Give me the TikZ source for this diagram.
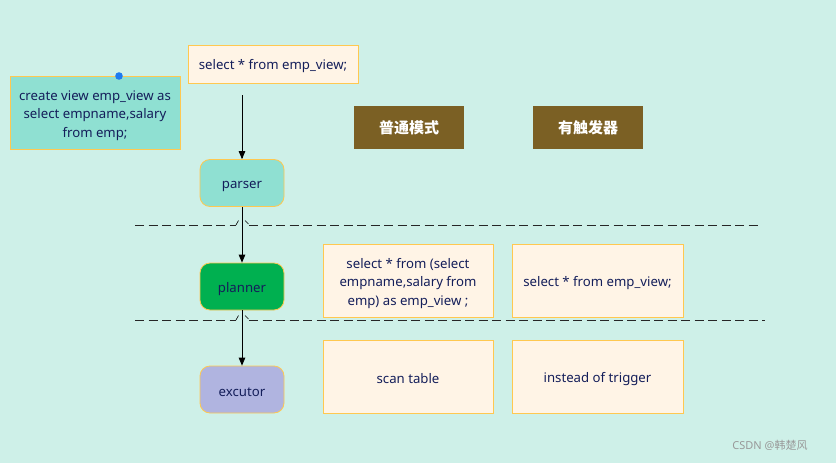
\documentclass[tikz,border=0pt]{standalone}
\usepackage{fontspec}
\setmainfont{Noto Sans}
\newfontfamily\cjk{Noto Sans CJK SC}
\usetikzlibrary{arrows}

\definecolor{bgmint}{RGB}{206,240,232}
\definecolor{tealfill}{RGB}{143,224,210}
\definecolor{cream}{RGB}{255,244,230}
\definecolor{boxedge}{RGB}{255,200,80}
\definecolor{plangreen}{RGB}{0,176,80}
\definecolor{execpurple}{RGB}{176,180,224}
\definecolor{modebrown}{RGB}{123,96,36}
\definecolor{sqltext}{RGB}{20,30,90}
\definecolor{dotblue}{RGB}{30,123,240}

\newcommand{\topgap}{\rule{0pt}{16pt}}

\begin{document}
\begin{tikzpicture}[x=1pt,y=-1pt,>=triangle 45,
	every node/.style={font=\fontsize{13.2}{18.5}\selectfont,text=sqltext,inner sep=0pt,align=center},
	sqlbox/.style={draw=boxedge,fill=cream,line width=0.8pt,execute at begin node={\rule{0pt}{15pt}}},
	stagebox/.style={draw=boxedge,line width=0.8pt,rounded corners=10pt,minimum width=84pt,minimum height=47pt,execute at begin node={\rule{0pt}{15pt}}},
	modebox/.style={fill=modebrown,text=white,minimum width=110pt,minimum height=43pt,font=\fontsize{15}{17}\selectfont\cjk\bfseries},
	sepline/.style={dash pattern=on 9pt off 4.5pt,line width=0.8pt,color=black!85}]
	% The background
	\fill[bgmint] (0,0) rectangle (836,463);
	\useasboundingbox (0,0) rectangle (836,463);

	% The view definition and the query
	\node[sqlbox,fill=tealfill,minimum width=170pt,minimum height=73pt] (viewdef) at (95,112.5)
		{\topgap create view emp\_view as\\select empname,salary\\from emp;};
	\coordinate (viewdot) at (119,76);
	\fill[dotblue] (viewdot) circle (3.8pt);
	\node[sqlbox,minimum width=170pt,minimum height=38pt] (query) at (273,64) {select * from emp\_view;};
	\coordinate (qstart) at (242,95);

	% The stages
	\node[stagebox,fill=tealfill] (parser) at (242,183) {parser};
	\node[stagebox,fill=plangreen] (planner) at (242,286.5) {planner};
	\node[stagebox,fill=execpurple] (excutor) at (242,389.5) {excutor};

	\draw[->,line width=0.8pt] (qstart) -- (parser.north);
	\draw[->,line width=0.8pt] (parser.south) -- (planner.north);
	\draw[->,line width=0.8pt] (planner.south) -- (excutor.north);

	% The dashed separators, with small hops at the arrows
	\draw[sepline] (135,225) -- (236,225);
	\draw[sepline] (249,225) -- (758,225);
	\draw[line width=0.6pt] (236,225) -- (238.5,220.5) (245,220.5) -- (248.5,224);
	\draw[sepline] (135,320) -- (236,320);
	\draw[sepline] (249,320) -- (765,320);
	\draw[line width=0.6pt] (236,320) -- (238.5,315.5) (245,315.5) -- (248.5,319);

	% The two modes
	\node[modebox] (normal) at (409,127.5) {普通模式};
	\node[modebox] (trigger) at (588,127.5) {有触发器};

	\node[sqlbox,minimum width=170pt,minimum height=73pt] (normplan) at (408,280.5)
		{\topgap select * from (select\\empname,salary from\\emp) as emp\_view ;};
	\node[sqlbox,minimum width=171pt,minimum height=73pt] (trigplan) at (597.5,280.5) {select * from emp\_view;};
	\node[sqlbox,minimum width=170pt,minimum height=73pt] (normexec) at (408,376.5) {scan table};
	\node[sqlbox,minimum width=171pt,minimum height=73pt] (trigexec) at (597.5,376.5) {instead of trigger};

	% The watermark
	\node[text=black!40,font=\fontsize{11}{13}\selectfont] (mark) at (770,445) {CSDN @{\cjk 韩楚风}};
\end{tikzpicture}
\end{document}
